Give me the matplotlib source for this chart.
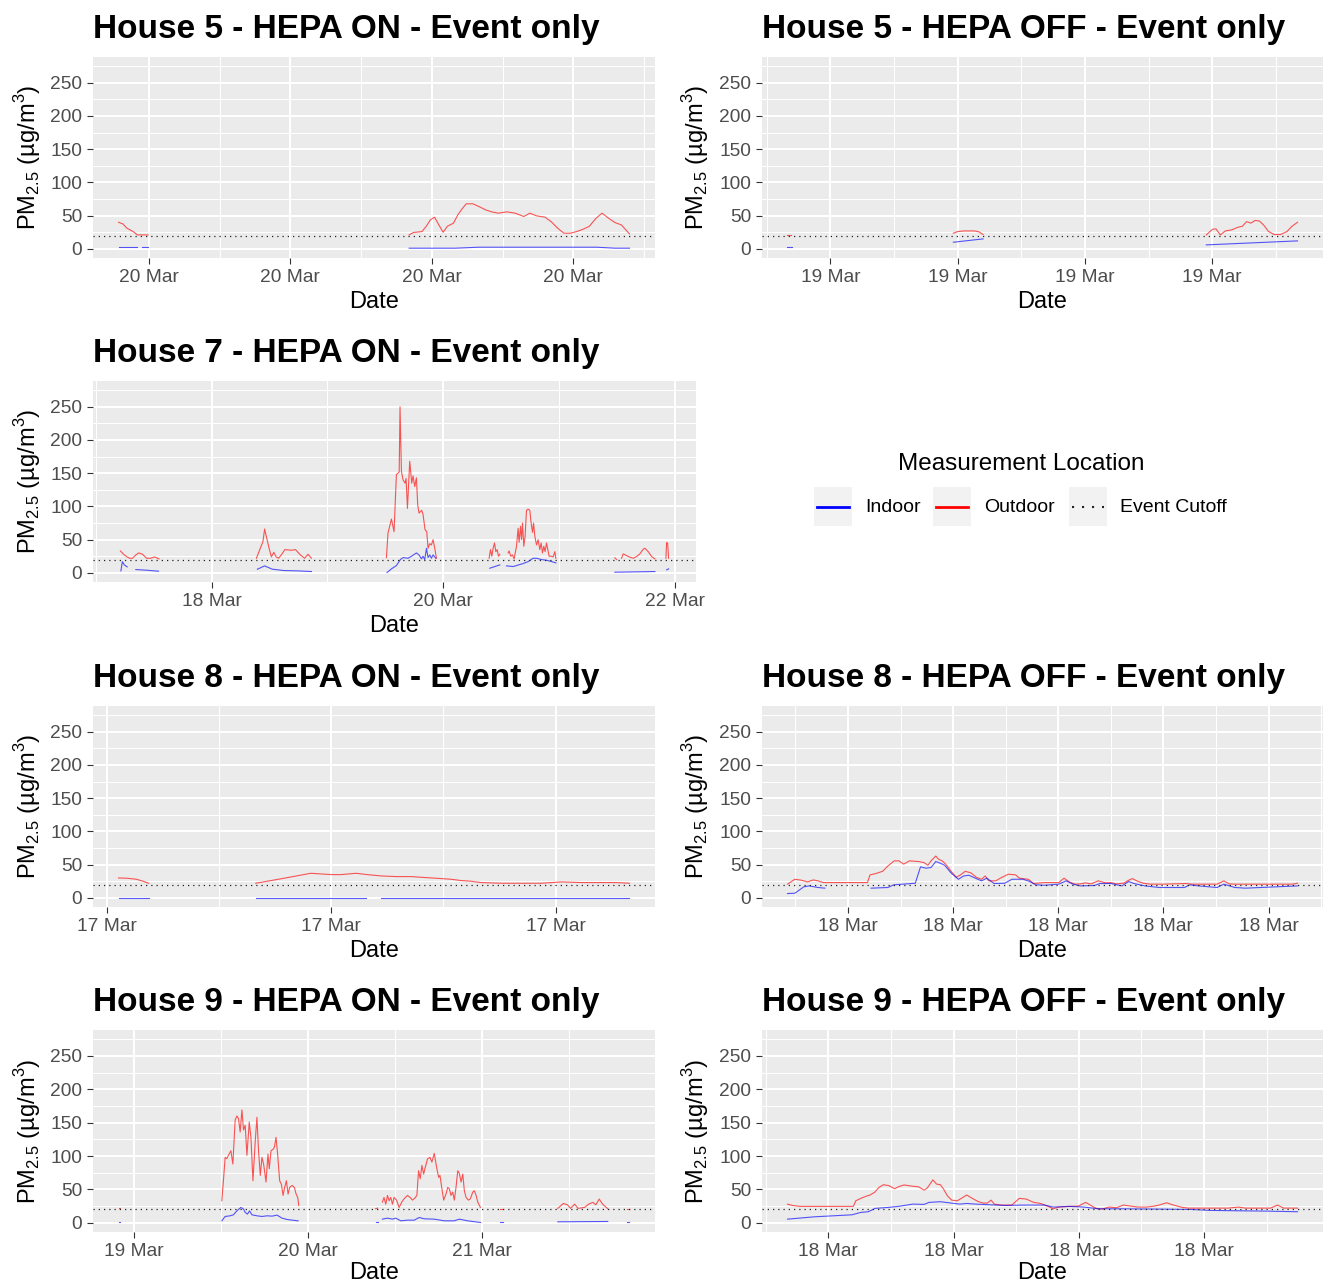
import numpy as np
import pandas as pd
import matplotlib
matplotlib.use("Agg")
import matplotlib.pyplot as plt
from matplotlib.patches import Rectangle
import matplotlib.dates as mdates

plt.rcParams['font.family'] = ['Liberation Sans', 'DejaVu Sans']
plt.rcParams['mathtext.fontset'] = 'custom'
plt.rcParams['mathtext.rm'] = 'Liberation Sans'

# ---- data: hours after each panel's base date, one sub-list per event segment ----
CUTOFF = 20

# House 5 - HEPA ON (base 20 Mar)
h5on_out_h = [[5.36, 5.45, 5.54, 5.67, 5.76, 5.85, 5.99],
              [11.52, 11.61, 11.79, 11.88, 11.97, 12.06, 12.15, 12.24, 12.33, 12.46,
               12.55, 12.64, 12.73, 12.87, 13.00, 13.14, 13.27, 13.41, 13.59, 13.77,
               13.95, 14.08, 14.22, 14.40, 14.53, 14.67, 14.80, 14.94, 15.07, 15.21,
               15.34, 15.48, 15.61, 15.75, 15.88, 16.02, 16.10, 16.19]]
h5on_out_v = [[40, 37.6, 31, 26, 21, 21, 21],
              [21, 24.6, 26, 33.6, 43.7, 47.7, 36, 25, 34, 38.7,
               51, 60, 67.8, 67.8, 63.7, 58.7, 55.7, 53.7, 55.7, 53.7,
               48.7, 53.7, 49.7, 47.7, 41, 31, 23.6, 23.6, 26, 29.6,
               34, 46, 53.7, 46, 39.7, 36, 29.6, 22.6]]
h5on_in_h = [[5.36, 5.76], [5.85, 5.99], [11.52, 12.5, 13.0, 15.5, 15.88, 16.19]]
h5on_in_v = [[2.5, 2.5], [2.5, 2.5], [1, 1, 2.5, 2.5, 1, 1]]

# House 5 - HEPA OFF (base 19 Mar)
h5off_out_h = [[4.99, 5.08],
               [8.90, 9.00, 9.15, 9.40, 9.50, 9.60],
               [14.86, 15.01, 15.09, 15.19, 15.31, 15.46, 15.61, 15.71, 15.81, 15.91,
                16.01, 16.11, 16.21, 16.33, 16.46, 16.61, 16.76, 16.88, 17.01]]
h5off_out_v = [[21, 21],
               [23.6, 26, 27, 27, 25.6, 21.6],
               [21, 29.6, 30, 21, 27, 28.6, 32.6, 34, 41, 38.7,
                42.7, 42, 36, 26, 21.6, 21.6, 26, 34, 40]]
h5off_in_h = [[4.99, 5.1], [8.90, 9.60], [14.86, 17.01]]
h5off_in_v = [[3.5, 3.5], [10, 15], [6, 12]]

# House 7 - HEPA ON (base 17 Mar)
h7_out_h = [[5.1, 5.5, 5.9, 6.5, 7.0, 7.6, 8.3, 8.9, 9.7, 10.5, 11.4, 12.2, 13.1],
            [33.3, 34.1, 34.65, 35.0, 35.5, 36.0, 36.4, 36.9, 37.4, 37.9,
             38.55, 39.2, 40.5, 41.4, 42.4, 43.3, 44.0, 44.7],
            [60.25, 60.58, 61.29, 61.83, 62.32, 62.66, 62.9, 63.07, 63.36, 63.69,
             64.11, 64.32, 64.61, 65.08, 65.5, 65.77, 66.12, 66.47, 66.74, 67.01,
             67.57, 67.84, 68.26, 68.61, 68.88, 69.23, 69.58, 69.92, 70.27, 70.62],
            [81.54, 81.83, 82.10, 82.37, 82.66, 82.93, 83.20, 83.49, 83.76],
            [85.48, 85.68, 86.04, 86.39, 86.72, 87.22, 87.55, 87.76, 88.05, 88.26,
             88.46, 88.73, 89.00, 89.29, 89.63, 89.98, 90.25, 90.54, 90.75, 91.02,
             91.37, 91.70, 92.05, 92.32, 92.61, 92.88, 93.15, 93.44, 93.71, 93.98,
             94.48, 94.81, 95.17, 95.37],
            [107.61, 107.97],
            [109.0, 109.34, 110.04, 110.73, 111.41, 112.12, 112.80, 113.49, 113.84, 114.52,
             115.23, 115.91],
            [118.19, 118.34, 118.55, 118.75]]
h7_out_v = [[33, 30, 27, 24, 22, 22, 27, 30, 28, 22, 22, 24, 21],
            [22, 37, 47, 66, 50, 35, 24, 31, 24, 22,
             28, 35, 34, 35, 27, 22, 28, 22],
            [23, 60, 81, 62, 148, 150, 152, 250, 153, 140,
             135, 142, 97, 168, 135, 146, 130, 143, 102, 90,
             94, 88, 65, 62, 37, 44, 42, 50, 37, 22],
            [22, 35, 25, 37, 45, 32, 35, 25, 28],
            [30, 33, 25, 27, 21, 40, 67, 46, 70, 50,
             75, 40, 55, 94, 96, 94, 75, 61, 75, 55,
             42, 50, 35, 45, 30, 40, 32, 45, 35, 25,
             25, 24, 32, 22],
            [22.6, 20],
            [22, 28.6, 26, 23.6, 22, 24.6, 28.6, 35.6, 37, 32,
             24.6, 21],
            [22, 45.6, 45, 22]]
h7_in_h = [[5.2, 5.5, 5.9, 6.5],
           [8.3, 10.5, 13.0],
           [33.5, 35.0, 36.6, 39.0, 41.9, 44.7],
           [60.37, 61.29, 62.32, 63.15, 63.69, 64.73, 65.44, 66.47, 67.01, 67.51,
            67.84, 68.19, 68.55, 68.88, 69.23, 69.58, 69.92, 70.49],
           [81.68, 83.76],
           [85.15, 86.51, 87.22, 88.59, 89.63, 90.66, 91.37, 92.41, 93.44, 94.48, 95.37],
           [107.61, 115.91],
           [118.34, 118.75]]
h7_in_v = [[3, 17, 12, 9],
           [5, 4, 2.5],
           [5.5, 10.5, 5.5, 3.5, 3, 2],
           [0.5, 6, 11, 20, 23, 22, 25, 30, 27, 21,
            25, 20, 37, 23, 27, 22, 27, 22],
           [7, 12],
           [10.5, 9.5, 11, 14, 17, 22, 22, 20, 19, 17, 15],
           [1, 2],
           [4.5, 6]]

# House 8 - HEPA ON (base 17 Mar)
h8on_out_h = [[10.25, 10.45, 10.65, 10.8, 10.92],
              [13.31, 13.65, 13.98, 14.3, 14.54, 14.77, 15.0, 15.21, 15.55, 15.8,
               16.11, 16.45, 16.78, 17.0, 17.23, 17.45, 17.67, 17.9, 18.12, 18.34,
               18.79, 19.2, 19.69, 20.13, 20.6, 21.03, 21.35, 21.65]]
h8on_out_v = [[30, 29.5, 28, 25, 22],
              [22, 26, 30, 34, 37, 36, 35, 35, 37, 35,
               33, 32, 32, 31, 30, 29, 28, 26, 25, 23,
               22, 22, 22, 24, 23, 23, 23, 22]]
h8on_in_h = [[10.25, 10.92], [13.31, 15.77], [16.1, 21.65]]
h8on_in_v = [[0.5, 0.5], [0.5, 0.5], [0.5, 0.5]]

# House 8 - HEPA OFF (base 18 Mar)
h8off_out_h = [[0.85, 0.99, 1.12, 1.23, 1.34, 1.43, 1.53, 1.71, 2.05, 2.37,
                2.42, 2.53, 2.66, 2.76, 2.88, 2.97, 3.06, 3.17, 3.34, 3.45,
                3.52, 3.58, 3.67, 3.72, 3.79, 3.86, 3.96, 4.06, 4.13, 4.23,
                4.34, 4.44, 4.54, 4.61, 4.68, 4.81, 4.92, 5.05, 5.19, 5.26,
                5.43, 5.53, 5.74, 6.01, 6.11, 6.21, 6.32, 6.42, 6.52, 6.62,
                6.76, 6.90, 7.00, 7.10, 7.24, 7.34, 7.41, 7.51, 7.62, 7.75,
                7.99, 8.43, 8.54, 9.02, 9.15, 9.25, 9.36, 10.45, 10.55]]
h8off_out_v = [[20.6, 28, 26.5, 24, 27, 25.6, 23, 23, 23, 23,
                34.6, 36.6, 40, 48, 55.7, 55.7, 50.7, 55.7, 54.7, 53,
                49, 55.7, 63, 58.4, 55.7, 50.7, 40, 31, 34, 40,
                37.6, 31, 28, 33, 25.6, 25.6, 30.6, 35.6, 34.6, 29.6,
                28, 21.6, 23, 23, 29.6, 24, 20.6, 21, 22.6, 21,
                25.6, 22.6, 23, 21, 22, 26.6, 29, 25, 22, 20.6,
                20.6, 21.6, 20.6, 20.6, 25.6, 21, 20.6, 20.6, 22]]
h8off_in_h = [[0.85, 0.99, 1.16, 1.26, 1.43, 1.56],
              [2.44, 2.76, 2.87, 3.28, 3.38, 3.48, 3.58, 3.67, 3.76, 3.84,
               3.96, 4.10, 4.20, 4.30, 4.44, 4.54, 4.64, 4.78, 4.98, 5.12,
               5.33, 5.46, 5.57, 5.74, 6.01, 6.15, 6.28, 6.42, 6.69, 6.79,
               7.00, 7.21, 7.34, 7.44, 7.65, 7.92, 8.40, 8.50, 8.67, 9.02,
               9.15, 9.36, 9.56, 10.55]]
h8off_in_v = [[6.5, 7, 16.6, 18, 15.6, 14.6],
              [14.6, 15.6, 19.6, 22, 46.7, 44.7, 45.7, 54.7, 52, 49,
               37.6, 28, 33, 34, 29, 25.6, 29.6, 21.6, 22, 28,
               28, 24.6, 19.6, 19, 20.6, 25.6, 20.6, 18, 18.6, 21.6,
               21.6, 18, 24.6, 21.6, 18, 15.6, 15.6, 19.6, 18, 15.6,
               20.6, 15.6, 14.6, 18]]

# House 9 - HEPA ON (base 19 Mar)
h9on_out_h = [[-2.1, -1.9],
              [12.13, 12.35, 12.59, 12.82, 13.04, 13.38, 13.65, 13.97, 14.21, 14.43,
               14.66, 14.90, 15.12, 15.35, 15.59, 15.91, 16.14, 16.42, 16.74, 16.97,
               17.19, 17.43, 17.66, 17.89, 18.22, 18.49, 18.67, 18.91, 19.19, 19.37,
               19.60, 19.82, 20.10, 20.33, 20.57, 20.79, 21.03, 21.26, 21.48, 21.82,
               22.13, 22.37, 22.59, 22.73],
              [33.3, 33.6],
              [34.26, 34.48, 34.72, 34.96, 35.18, 35.41, 35.65, 35.87, 36.20, 36.56,
               36.93, 37.25, 37.72, 38.08, 38.41, 38.73, 39.01, 39.24, 39.47, 39.70,
               39.94, 40.16, 40.49, 40.81, 41.08, 41.40, 41.73, 42.01, 42.19, 42.43,
               42.70, 43.02, 43.26, 43.48, 43.71, 43.95, 44.17, 44.40, 44.64, 44.86,
               45.10, 45.33, 45.55, 45.79, 46.11, 46.38, 46.71, 46.93, 47.17, 47.40,
               47.76],
              [50.4, 50.9],
              [58.43, 59.19, 59.76, 60.17, 60.75, 61.22, 62.10, 62.68, 63.26, 63.67,
               64.13, 64.60, 65.31],
              [68.0, 68.3]]
h9on_out_v = [[21.6, 21.6],
              [33, 63, 98, 96, 101, 108, 88, 154, 160, 156,
               136, 169, 139, 146, 101, 151, 128, 63, 123, 158,
               108, 71, 98, 88, 61, 103, 81, 108, 110, 113,
               128, 103, 63, 58, 41, 53, 63, 43, 53, 56,
               53, 43, 38, 26],
              [21, 22],
              [31, 38, 28, 41, 33, 38, 28, 38, 34, 23,
               31, 36, 41, 38, 34, 37, 41, 78, 66, 86,
               73, 83, 96, 98, 91, 104, 83, 68, 71, 53,
               34, 43, 53, 51, 41, 46, 34, 53, 78, 74,
               61, 73, 48, 38, 34, 36, 46, 48, 41, 31,
               23],
              [21, 21],
              [21.6, 29, 27, 21.6, 28, 21.6, 23, 28, 30.6, 27,
               35.6, 28, 21],
              [21, 21]]
h9on_in_h = [[-2.1, -1.9],
             [12.13, 12.59, 13.28, 13.74, 14.21, 14.76, 15.12, 15.35, 15.67, 15.95,
              16.28, 16.97, 17.66, 18.36, 19.05, 19.74, 20.43, 21.12, 21.82, 22.64],
             [33.4, 33.7],
             [34.26, 34.96, 35.65, 36.10, 36.79, 37.72, 38.64, 39.33, 40.02, 41.40,
              42.79, 44.17, 44.86, 46.02, 47.76],
             [50.4, 50.9],
             [58.43, 65.31],
             [68.0, 68.3]]
h9on_in_v = [[0.5, 0.5],
             [3, 9.5, 10.5, 12, 18, 23, 20.6, 15.6, 13, 18,
              12, 10.5, 9.5, 10.5, 10, 11.5, 7, 5, 4, 3],
             [0.5, 0.5],
             [5.5, 7, 5.5, 7, 3, 4, 4, 8, 6, 5.5,
              3, 3, 5.5, 3, 0.5],
             [0.5, 0.5],
             [1.5, 2],
             [0.5, 0.5]]

# House 9 - HEPA OFF (base 18 Mar)
h9off_out_h = [[1.35, 1.43, 1.55, 1.78, 2.06, 2.40, 2.44, 2.52, 2.61, 2.67,
                2.74, 2.81, 2.88, 2.97, 3.06, 3.12, 3.21, 3.33, 3.44, 3.53,
                3.58, 3.67, 3.73, 3.79, 3.84, 3.90, 3.97, 4.06, 4.15, 4.21,
                4.30, 4.39, 4.47, 4.54, 4.60, 4.65, 4.76, 4.93, 5.05, 5.16,
                5.28, 5.39, 5.51, 5.59, 5.68, 5.85, 5.99, 6.11, 6.20, 6.28,
                6.37, 6.48, 6.60, 6.71, 6.83, 6.94, 7.08, 7.20, 7.28, 7.40,
                7.51, 7.63, 7.74, 8.03, 8.38, 8.55, 8.66, 9.06, 9.17, 9.27,
                9.38, 9.49]]
h9off_out_v = [[28, 26, 24.6, 24.6, 24.6, 24.6, 33, 36.6, 40, 41.7,
                45.7, 53, 57, 55.7, 51, 54, 56.7, 55, 54, 49,
                52, 64.3, 58, 57, 50.6, 40.7, 34, 33, 38, 41.7,
                36.6, 32, 29.6, 29.6, 34, 28, 26.6, 26.6, 36.6, 35.6,
                30.6, 29, 24.6, 21, 23.6, 24.6, 25, 30.6, 25.6, 21.6,
                20.6, 23.6, 22.6, 26.6, 25, 23.6, 23.6, 25, 26.6, 30,
                26.6, 23.6, 22, 22, 22, 23.6, 22, 22, 26.6, 22,
                22, 22]]
h9off_in_h = [[1.35, 1.78, 2.38, 2.52, 2.64, 2.75, 2.95, 3.12, 3.35, 3.53,
               3.61, 3.79, 3.96, 4.10, 4.21, 4.36, 4.59, 4.82, 5.11, 5.45,
               5.59, 5.85, 6.08, 6.31, 6.65, 7.23, 7.80, 8.09, 8.55, 8.95,
               9.49]]
h9off_in_v = [[5.5, 9, 12, 15.6, 16.6, 21.6, 23, 24.6, 28, 27.6,
               30.6, 31.6, 29.6, 28, 29, 28, 27, 26, 26.6, 26.6,
               23.6, 24.6, 23.6, 21, 21, 20.6, 20, 18.6, 18, 17.6,
               16.6]]

# axis break positions (hours after base)
h5on_major, h5on_minor = [6, 9, 12, 15], [4.5, 7.5, 10.5, 13.5, 16.5]
h5off_major, h5off_minor = [6, 9, 12, 15], [4.5, 7.5, 10.5, 13.5, 16.5]
h7_major, h7_minor = [24, 72, 120], [0, 48, 96]
h8on_major, h8on_minor = [10, 15, 20], [7.5, 12.5, 17.5, 22.5]
h8off_major, h8off_minor = [2, 4, 6, 8, 10], [1, 3, 5, 7, 9, 11]
h9on_major, h9on_minor = [0, 24, 48], [-12, 12, 36, 60]
h9off_major, h9off_minor = [2, 4, 6, 8], [1, 3, 5, 7, 9]

W, H = 1325, 1284
fig = plt.figure(figsize=(W / 100, H / 100), dpi=100)


def to_time(base, hours):
    return pd.Timestamp(base) + pd.to_timedelta(np.asarray(hours, dtype=float), unit='h')


def panel(px, title, base, out_h, out_v, in_h, in_v, major, minor, xlab_off=44):
    x0, y0, x1, y1 = px
    ax = fig.add_axes([x0 / W, 1 - y1 / H, (x1 - x0) / W, (y1 - y0) / H])
    ax.set_facecolor('#EBEBEB')
    for s in ax.spines.values():
        s.set_visible(False)
    for hh, vv in zip(out_h, out_v):
        ax.plot(to_time(base, hh), vv, color='#FF0000', lw=0.8, alpha=0.65)
    for hh, vv in zip(in_h, in_v):
        ax.plot(to_time(base, hh), vv, color='#0000FF', lw=0.8, alpha=0.65)
    ax.axhline(CUTOFF, color='#222222', lw=0.9, ls=(0, (1, 3.2)))
    # x range = data range expanded by 5% on each side
    all_h = np.concatenate([np.ravel(s) for s in out_h + in_h])
    lo, hi = all_h.min(), all_h.max()
    pad = 0.05 * (hi - lo)
    ax.set_ylim(-13.75, 288.75)
    ax.set_yticks([0, 50, 100, 150, 200, 250])
    ax.set_yticks([25, 75, 125, 175, 225, 275], minor=True)
    ax.set_xticks(to_time(base, major))
    ax.set_xticks(to_time(base, minor), minor=True)
    ax.set_xlim(to_time(base, [lo - pad, hi + pad]))
    ax.xaxis.set_major_formatter(mdates.DateFormatter('%d %b'))
    ax.grid(which='major', color='white', lw=1.5)
    ax.grid(which='minor', color='white', lw=0.75)
    ax.set_axisbelow(True)
    ax.tick_params(which='major', length=4.3, width=0.8, color='#333333',
                   labelcolor='#4D4D4D', labelsize=13.8, pad=3.5)
    ax.tick_params(which='minor', length=0)
    ax.set_title(title, loc='left', fontsize=24, fontweight='bold', pad=13.5)
    ax.set_xlabel('Date', fontsize=17, va='center')
    ax.xaxis.set_label_coords(0.5, -xlab_off / (y1 - y0))
    ax.set_ylabel(r'PM$_\mathregular{2.5}$ (µg/m$^\mathregular{3}$)', fontsize=17, va='center')
    ax.yaxis.set_label_coords(-(66 if x0 > 700 else 65) / (x1 - x0), 0.5)
    return ax


panel((93, 57, 655, 258), 'House 5 - HEPA ON - Event only', '2023-03-20',
      h5on_out_h, h5on_out_v, h5on_in_h, h5on_in_v, h5on_major, h5on_minor)
panel((762, 57, 1323, 258), 'House 5 - HEPA OFF - Event only', '2023-03-19',
      h5off_out_h, h5off_out_v, h5off_in_h, h5off_in_v, h5off_major, h5off_minor)
panel((93, 381, 696, 582), 'House 7 - HEPA ON - Event only', '2023-03-17',
      h7_out_h, h7_out_v, h7_in_h, h7_in_v, h7_major, h7_minor)
panel((93, 706, 655, 907), 'House 8 - HEPA ON - Event only', '2023-03-17',
      h8on_out_h, h8on_out_v, h8on_in_h, h8on_in_v, h8on_major, h8on_minor)
panel((762, 706, 1323, 907), 'House 8 - HEPA OFF - Event only', '2023-03-18',
      h8off_out_h, h8off_out_v, h8off_in_h, h8off_in_v, h8off_major, h8off_minor)
panel((93, 1030, 655, 1232), 'House 9 - HEPA ON - Event only', '2023-03-19',
      h9on_out_h, h9on_out_v, h9on_in_h, h9on_in_v, h9on_major, h9on_minor, xlab_off=41)
panel((762, 1030, 1323, 1232), 'House 9 - HEPA OFF - Event only', '2023-03-18',
      h9off_out_h, h9off_out_v, h9off_in_h, h9off_in_v, h9off_major, h9off_minor, xlab_off=41)

# legend, drawn in pixel coordinates
leg = fig.add_axes([0, 0, 1, 1])
leg.set_xlim(0, W)
leg.set_ylim(H, 0)
leg.axis('off')
leg.text(1021, 464, 'Measurement Location', fontsize=17.5, ha='center', va='center')
keys = [('Indoor', 814, dict(color='#0000FF', lw=2.0)),
        ('Outdoor', 933, dict(color='#FF0000', lw=2.0)),
        ('Event Cutoff', 1069, dict(color='#222222', lw=1.5, ls=(0, (1, 3.8))))]
for label, kx, style in keys:
    leg.add_patch(Rectangle((kx, 487), 38, 39, fc='#F2F2F2', ec='none'))
    leg.plot([kx + 3, kx + 35], [506.5, 506.5], **style)
    leg.text(kx + 51, 507, label, fontsize=14, ha='left', va='center')

fig.savefig('out.png', dpi=100)
